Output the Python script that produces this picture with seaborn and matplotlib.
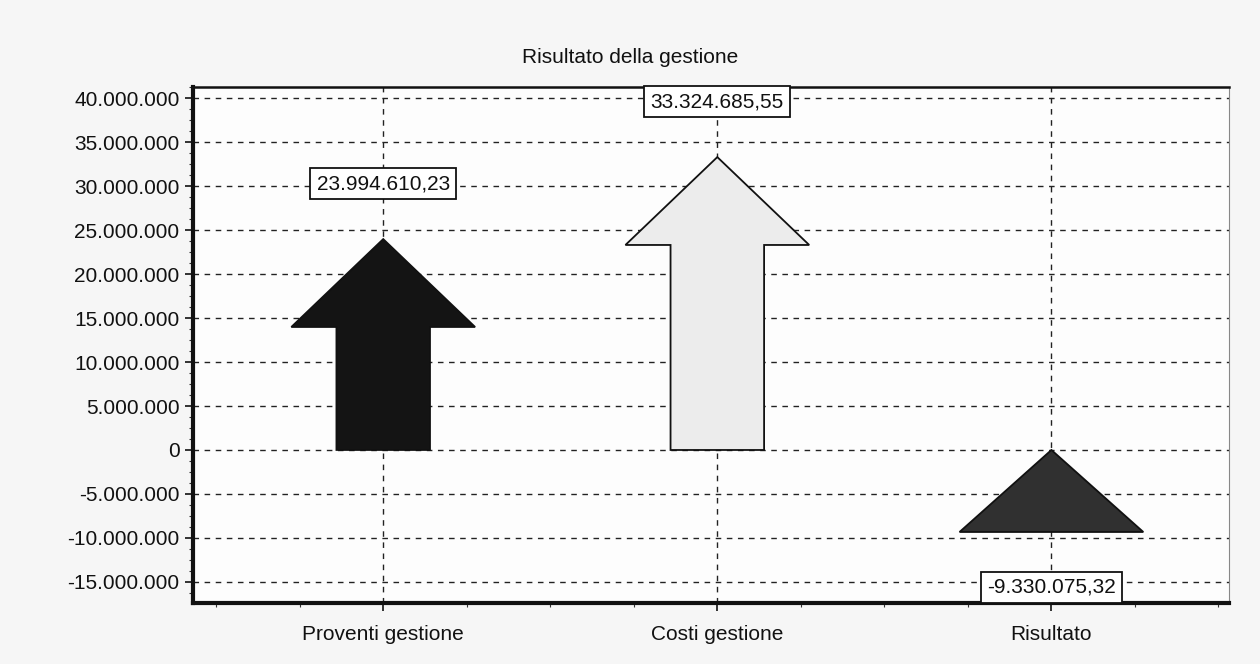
# Risultato della gestione - arrow chart
import numpy as np
import matplotlib
matplotlib.use("Agg")
import matplotlib.pyplot as plt
import seaborn as sns
from matplotlib.ticker import FuncFormatter, MultipleLocator

# ── data ─────────────────────────────────────────────
categories = ["Proventi gestione", "Costi gestione", "Risultato"]
values = [23994610.23, 33324685.55, -9330075.32]
fill_colors = ["#141414", "#ececec", "#303030"]
y_ticks = list(range(-15000000, 40000001, 5000000))

HEAD = 10_000_000      # arrow head height (data units)
HEAD_W = 0.55          # head width (category units)
SHAFT_W = 0.28         # shaft width
LABEL_OFF = 6_300_000  # label distance from arrow end


def it_int(v, pos=None):
    return f"{int(round(v)):,}".replace(",", ".")


def it_dec(v):
    s = f"{v:,.2f}"
    return s.replace(",", "X").replace(".", ",").replace("X", ".")


sns.set_theme(style="white")
plt.rcParams["font.family"] = ["Liberation Sans", "DejaVu Sans"]

fig = plt.figure(figsize=(12.6, 6.64), dpi=100, facecolor="#f6f6f6")
ax = fig.add_axes([0.153, 0.092, 0.822, 0.777])
ax.set_facecolor("#fdfdfd")

x_pos = np.arange(len(categories))
for x, v, c in zip(x_pos, values, fill_colors):
    lo, hi = min(0, v), max(0, v)
    h = min(HEAD, hi - lo)
    base = hi - h
    xs = [x - SHAFT_W / 2, x - SHAFT_W / 2, x - HEAD_W / 2, x,
          x + HEAD_W / 2, x + SHAFT_W / 2, x + SHAFT_W / 2]
    ys = [lo, base, base, hi, base, base, lo]
    ax.fill(xs, ys, facecolor=c, edgecolor="#111111", linewidth=1.3, zorder=3)

    ly = v + LABEL_OFF if v >= 0 else v - LABEL_OFF
    ax.text(x, ly, it_dec(v), ha="center", va="center", fontsize=15,
            color="#111111", zorder=5,
            bbox=dict(boxstyle="square,pad=0.3", facecolor="white",
                      edgecolor="#111111", linewidth=1.3))

ax.set_xlim(-0.57, 2.53)
ax.set_ylim(-17_400_000, 41_300_000)
ax.set_xticks(x_pos)
ax.set_xticklabels(categories)
ax.set_yticks(y_ticks)
ax.yaxis.set_major_formatter(FuncFormatter(it_int))
ax.xaxis.set_minor_locator(MultipleLocator(0.25))
ax.yaxis.set_minor_locator(MultipleLocator(1_250_000))

ax.tick_params(axis="both", which="major", labelsize=15, colors="#111111",
               length=6, width=1.2, direction="out", bottom=True, left=True)
ax.tick_params(axis="both", which="minor", length=3, width=0.8,
               color="#333333", bottom=True, left=True)
ax.tick_params(axis="x", which="major", pad=10)

ax.grid(True, which="major", axis="both", color="#222222",
        linestyle=(0, (4, 4)), linewidth=1.0, zorder=0)
ax.set_axisbelow(True)

for side in ["left", "bottom"]:
    ax.spines[side].set_linewidth(3)
    ax.spines[side].set_color("#111111")
ax.spines["top"].set_linewidth(1.8)
ax.spines["top"].set_color("#111111")
ax.spines["right"].set_linewidth(0.8)
ax.spines["right"].set_color("#888888")

# title is centred on the figure, not on the plot area
fig.text(0.5, 0.913, "Risultato della gestione", ha="center", va="center",
         fontsize=15, color="#111111")

fig.savefig("out.png", dpi=100, facecolor=fig.get_facecolor())
